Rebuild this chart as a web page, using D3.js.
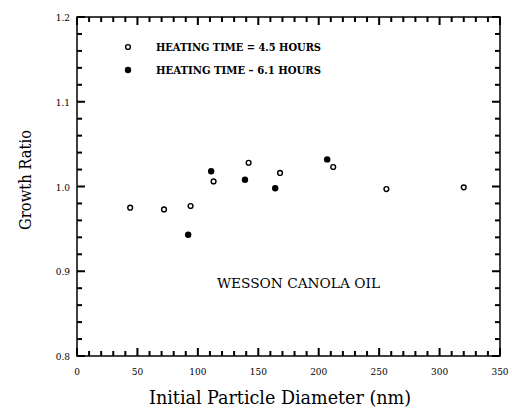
<!DOCTYPE html>
<meta charset="utf-8">
<script src="https://d3js.org/d3.v7.min.js"></script>
<style>
  body { margin: 0; background: #fff; }
  text { font-family: "DejaVu Serif Condensed", "DejaVu Serif", serif; fill: #000; }
</style>
<div id="chart"></div>
<script>
  // 4.5 hour heating (open circles)
  var d45x = [44, 72, 94, 113, 142, 168, 212, 256, 320];
  var d45y = [0.975, 0.973, 0.977, 1.006, 1.028, 1.016, 1.023, 0.997, 0.999];
  // 6.1 hour heating (filled circles)
  var d61x = [92, 111, 139, 164, 207];
  var d61y = [0.943, 1.018, 1.008, 0.998, 1.032];

  var xTicks = [0, 50, 100, 150, 200, 250, 300, 350];
  var xTickLabels = ["0", "50", "100", "150", "200", "250", "300", "350"];
  var yTicks = [0.8, 0.9, 1.0, 1.1, 1.2];
  var yTickLabels = ["0.8", "0.9", "1.0", "1.1", "1.2"];
  var legendLabels = ["HEATING TIME = 4.5 HOURS", "HEATING TIME \u2013 6.1 HOURS"];

  var W = 512, H = 414;
  var m = { left: 77, right: 12, top: 17, bottom: 58 };

  var svg = d3.select("#chart").append("svg")
    .attr("width", W).attr("height", H);

  var x = d3.scaleLinear().domain([0, 350]).range([m.left, W - m.right]);
  var y = d3.scaleLinear().domain([0.8, 1.2]).range([H - m.bottom, m.top]);

  // frame
  svg.append("rect")
    .attr("x", x(0)).attr("y", y(1.2))
    .attr("width", x(350) - x(0)).attr("height", y(0.8) - y(1.2))
    .attr("fill", "none").attr("stroke", "#000").attr("stroke-width", 1.5);

  // inward ticks on all four sides, drawn as small filled rects
  var xMinor = d3.range(0, 351, 10);
  var yMinor = d3.range(0, 21).map(function (i) { return 0.8 + i * 0.02; });
  var tk = svg.append("g").attr("fill", "#000");

  function xLen(v) { return v % 50 === 0 ? 8 : 5; }
  function yLen(i) { return i % 5 === 0 ? 8 : 5; }

  tk.selectAll(".xb").data(xMinor).enter().append("rect")
    .attr("x", function (d) { return x(d) - 1; }).attr("width", 2)
    .attr("y", function (d) { return y(0.8) - xLen(d); })
    .attr("height", function (d) { return xLen(d); });
  tk.selectAll(".xt").data(xMinor).enter().append("rect")
    .attr("x", function (d) { return x(d) - 1; }).attr("width", 2)
    .attr("y", y(1.2))
    .attr("height", function (d) { return xLen(d); });
  tk.selectAll(".yl").data(yMinor).enter().append("rect")
    .attr("y", function (d) { return y(d) - 1; }).attr("height", 2)
    .attr("x", x(0))
    .attr("width", function (d, i) { return yLen(i); });
  tk.selectAll(".yr").data(yMinor).enter().append("rect")
    .attr("y", function (d) { return y(d) - 1; }).attr("height", 2)
    .attr("x", function (d, i) { return x(350) - yLen(i); })
    .attr("width", function (d, i) { return yLen(i); });

  // tick labels
  svg.selectAll(".xlab").data(xTicks).enter().append("text")
    .attr("x", function (d) { return x(d); })
    .attr("y", y(0.8) + 19)
    .attr("text-anchor", "middle")
    .style("font-size", "10px")
    .text(function (d, i) { return xTickLabels[i]; });

  svg.selectAll(".ylab").data(yTicks).enter().append("text")
    .attr("x", x(0) - 7)
    .attr("y", function (d) { return y(d) + 4; })
    .attr("text-anchor", "end")
    .style("font-size", "10px")
    .text(function (d, i) { return yTickLabels[i]; });

  // axis titles
  svg.append("text")
    .attr("x", 280).attr("y", 404)
    .attr("text-anchor", "middle")
    .attr("textLength", 262)
    .attr("lengthAdjust", "spacingAndGlyphs")
    .style("font-size", "18px")
    .text("Initial Particle Diameter (nm)");

  svg.append("text")
    .attr("transform", "translate(31,180) rotate(-90)")
    .attr("text-anchor", "middle")
    .attr("textLength", 100)
    .attr("lengthAdjust", "spacingAndGlyphs")
    .style("font-size", "17px")
    .text("Growth Ratio");

  // points
  var pts45 = d45x.map(function (v, i) { return [v, d45y[i]]; });
  var pts61 = d61x.map(function (v, i) { return [v, d61y[i]]; });

  svg.selectAll(".p45").data(pts45).enter().append("circle")
    .attr("cx", function (d) { return x(d[0]); })
    .attr("cy", function (d) { return y(d[1]); })
    .attr("r", 2.4)
    .attr("fill", "#fff").attr("stroke", "#000").attr("stroke-width", 1.4);

  svg.selectAll(".p61").data(pts61).enter().append("circle")
    .attr("cx", function (d) { return x(d[0]); })
    .attr("cy", function (d) { return y(d[1]); })
    .attr("r", 3.2)
    .attr("fill", "#000");

  // legend
  var leg = svg.append("g");
  leg.append("circle").attr("cx", 128).attr("cy", 47).attr("r", 2.4)
    .attr("fill", "#fff").attr("stroke", "#000").attr("stroke-width", 1.4);
  leg.append("circle").attr("cx", 128).attr("cy", 70).attr("r", 3.2).attr("fill", "#000");
  legendLabels.forEach(function (t, i) {
    leg.append("text")
      .attr("x", 156).attr("y", 51 + i * 23)
      .attr("textLength", 165)
      .attr("lengthAdjust", "spacingAndGlyphs")
      .style("font-size", "11px").style("font-weight", "bold")
      .text(t);
  });

  svg.append("text")
    .attr("x", 217).attr("y", 288)
    .attr("textLength", 163)
    .attr("lengthAdjust", "spacingAndGlyphs")
    .style("font-size", "13px")
    .text("WESSON CANOLA OIL");
</script>
